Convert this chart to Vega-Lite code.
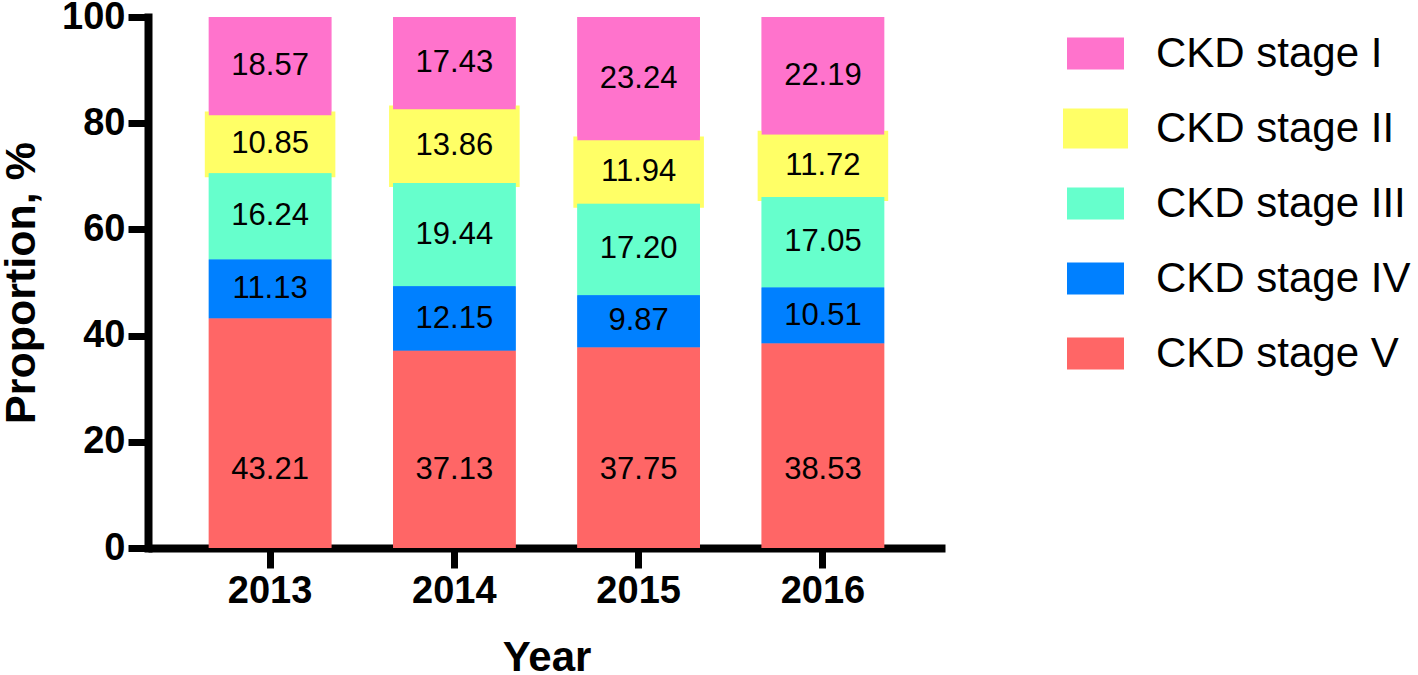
{
  "$schema": "https://vega.github.io/schema/vega-lite/v6.json",
  "width": 797,
  "height": 531,
  "autosize": {"type": "none"},
  "padding": {"left": 148, "top": 17, "right": 473, "bottom": 127},
  "background": "white",
  "config": {
    "view": {"stroke": null},
    "font": "Liberation Sans",
    "axis": {"grid": false, "domainColor": "black", "tickColor": "black", "labelColor": "black", "titleColor": "black", "zindex": 1}
  },
  "data": {
    "values": [
      {"year": "2013", "stage": "CKD stage I", "value": 18.57},
      {"year": "2013", "stage": "CKD stage II", "value": 10.85},
      {"year": "2013", "stage": "CKD stage III", "value": 16.24},
      {"year": "2013", "stage": "CKD stage IV", "value": 11.13},
      {"year": "2013", "stage": "CKD stage V", "value": 43.21},
      {"year": "2014", "stage": "CKD stage I", "value": 17.43},
      {"year": "2014", "stage": "CKD stage II", "value": 13.86},
      {"year": "2014", "stage": "CKD stage III", "value": 19.44},
      {"year": "2014", "stage": "CKD stage IV", "value": 12.15},
      {"year": "2014", "stage": "CKD stage V", "value": 37.13},
      {"year": "2015", "stage": "CKD stage I", "value": 23.24},
      {"year": "2015", "stage": "CKD stage II", "value": 11.94},
      {"year": "2015", "stage": "CKD stage III", "value": 17.20},
      {"year": "2015", "stage": "CKD stage IV", "value": 9.87},
      {"year": "2015", "stage": "CKD stage V", "value": 37.75},
      {"year": "2016", "stage": "CKD stage I", "value": 22.19},
      {"year": "2016", "stage": "CKD stage II", "value": 11.72},
      {"year": "2016", "stage": "CKD stage III", "value": 17.05},
      {"year": "2016", "stage": "CKD stage IV", "value": 10.51},
      {"year": "2016", "stage": "CKD stage V", "value": 38.53}
    ]
  },
  "encoding": {
    "x": {
      "field": "year", "type": "nominal",
      "scale": {"paddingInner": 0.335, "paddingOuter": 0.33},
      "axis": {
        "title": "Year", "labelAngle": 0,
        "domainWidth": 8, "domainCap": "butt",
        "tickWidth": 7, "tickSize": 20,
        "labelFont": "Liberation Sans", "labelFontSize": 38, "labelFontWeight": "bold", "labelPadding": 4,
        "titleFont": "Liberation Sans", "titleFontSize": 42, "titleFontWeight": "bold",
        "titleBaseline": "alphabetic", "titleY": 122
      }
    }
  },
  "layer": [
    {
      "mark": {"type": "bar", "stroke": "#FFFF66"},
      "encoding": {
        "y": {
          "field": "value", "type": "quantitative", "stack": "zero",
          "scale": {"domain": [0, 100], "nice": false, "clamp": true},
          "axis": {
            "title": "Proportion, %", "values": [0, 20, 40, 60, 80, 100],
            "domainWidth": 8, "domainCap": "square",
            "tickWidth": 7, "tickSize": 20,
            "labelFont": "Liberation Sans", "labelFontSize": 38, "labelFontWeight": "bold", "labelPadding": 3,
            "titleFont": "Liberation Sans", "titleFontSize": 43, "titleFontWeight": "bold",
            "titleAngle": -90, "titleBaseline": "alphabetic", "titleAlign": "center",
            "titleX": -114, "titleY": 265.5
          }
        },
        "color": {
          "field": "stage", "type": "nominal",
          "scale": {
            "domain": ["CKD stage I", "CKD stage II", "CKD stage III", "CKD stage IV", "CKD stage V"],
            "range": ["#FF73CC", "#FFFF66", "#66FFCC", "#0080FF", "#FF6666"]
          },
          "legend": {
            "title": null, "orient": "none", "legendX": 919, "legendY": 8, "padding": 0,
            "symbolSize": 3249, "symbolOpacity": 1, "symbolStrokeWidth": 0,
            "symbolType": "M-1,-0.5614H1V0.5614H-1Z",
            "labelFont": "Liberation Sans", "labelFontSize": 42, "labelColor": "black", "labelOffset": 32,
            "rowPadding": 25, "labelLimit": 400
          }
        },
        "order": {"field": "stage", "sort": "descending"},
        "strokeWidth": {"condition": {"test": "datum.stage === 'CKD stage II'", "value": 8}, "value": 0}
      }
    },
    {
      "mark": {"type": "bar", "strokeWidth": 0},
      "encoding": {
        "y": {"field": "value", "type": "quantitative", "stack": "zero"},
        "color": {"field": "stage", "type": "nominal"},
        "order": {"field": "stage", "sort": "descending"}
      }
    },
    {
      "transform": [
        {"stack": "value", "groupby": ["year"], "sort": [{"field": "stage", "order": "descending"}], "as": ["y0", "y1"]},
        {"calculate": "datum.stage === 'CKD stage V' ? 14.7 : (datum.y0 + datum.y1) / 2", "as": "mid"}
      ],
      "mark": {"type": "text", "fontSize": 31, "font": "Liberation Sans", "color": "black", "baseline": "middle", "align": "center"},
      "encoding": {
        "y": {"field": "mid", "type": "quantitative"},
        "text": {"field": "value", "type": "quantitative", "format": ".2f"}
      }
    },
    {
      "mark": {"type": "point", "filled": true, "opacity": 0, "strokeWidth": 0},
      "encoding": {
        "y": {"field": "value", "type": "quantitative"},
        "color": {"field": "stage", "type": "nominal"},
        "shape": {
          "field": "stage", "type": "nominal",
          "scale": {
            "domain": ["CKD stage I", "CKD stage II", "CKD stage III", "CKD stage IV", "CKD stage V"],
            "range": [
              "M-1,-0.5614H1V0.5614H-1Z",
              "M-1.1404,-0.7018H1.1404V0.7018H-1.1404Z",
              "M-1,-0.5614H1V0.5614H-1Z",
              "M-1,-0.5614H1V0.5614H-1Z",
              "M-1,-0.5614H1V0.5614H-1Z"
            ]
          },
          "legend": {
            "title": null, "orient": "none", "legendX": 919, "legendY": 8, "padding": 0,
            "symbolSize": 3249, "symbolOpacity": 1, "symbolStrokeWidth": 0,
            "labelFont": "Liberation Sans", "labelFontSize": 42, "labelColor": "black", "labelOffset": 32,
            "rowPadding": 25, "labelLimit": 400
          }
        }
      }
    }
  ]
}
